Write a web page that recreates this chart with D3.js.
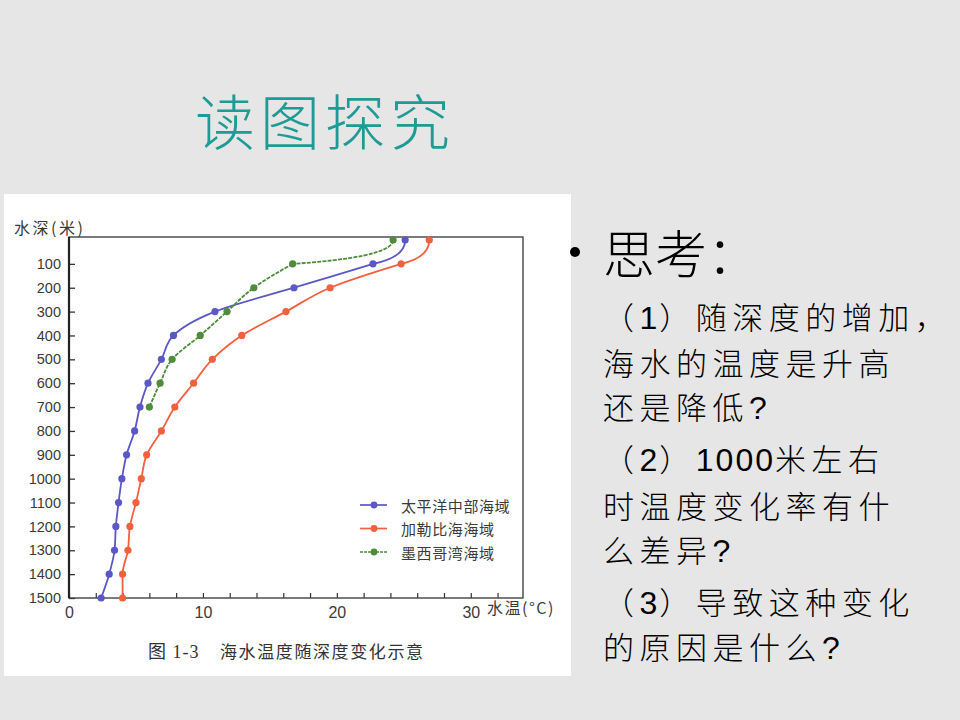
<!DOCTYPE html>
<html>
<head>
<meta charset="utf-8">
<script src="https://cdn.jsdelivr.net/npm/d3@7"></script>
<style>
  body { margin: 0; background: #e6e6e6; }
  svg { display: block; }
</style>
</head>
<body>
<div id="slide"></div>
<script>
// depth (m) of each reading
const depths = [0, 100, 200, 300, 400, 500, 600, 700, 800, 900, 1000, 1100, 1200, 1300, 1400, 1500];
// water temperature (°C) per series
const pacific = [25.1, 22.7, 16.8, 10.9, 7.8, 6.9, 5.9, 5.3, 4.9, 4.3, 3.95, 3.7, 3.5, 3.4, 3.0, 2.4];
const caribbean = [26.9, 24.8, 19.5, 16.2, 12.9, 10.7, 9.3, 7.9, 6.9, 5.8, 5.4, 5.0, 4.55, 4.4, 4.0, 4.0];
const mexico = [24.2, 16.7, 13.8, 11.8, 9.8, 7.7, 6.8, 6.0];
const seriesNames = ["太平洋中部海域", "加勒比海海域", "墨西哥湾海域"];
const seriesColors = ["#5b57c4", "#f2603f", "#4f8b3b"];
const depthTicks = [100, 200, 300, 400, 500, 600, 700, 800, 900, 1000, 1100, 1200, 1300, 1400, 1500];
const tempTicks = [0, 2, 4, 6, 8, 10, 12, 14, 16, 18, 20, 22, 24, 26, 28, 30, 32];
const tempLabels = [0, 10, 20, 30];

const questions = [
  "（1）随深度的增加，",
  "海水的温度是升高",
  "还是降低?",
  "（2）1000米左右",
  "时温度变化率有什",
  "么差异?",
  "（3）导致这种变化",
  "的原因是什么?"
];
const questionY = [318, 364, 408, 460, 507, 551, 603, 648];

(function seaTemp() {
  const width = 960, height = 720;
  const frame = {left: 69, right: 523, top: 237, bottom: 598};

  const svg = d3.select("#slide")
    .append("svg")
    .attr("width", width)
    .attr("height", height)
    .attr("viewBox", [0, 0, width, height]);

  svg.append("rect")
    .attr("width", width)
    .attr("height", height)
    .attr("fill", "#e6e6e6");

  // slide title
  svg.append("text")
    .attr("x", 195)
    .attr("y", 118)
    .attr("dominant-baseline", "central")
    .attr("font-family", "Noto Sans CJK SC")
    .attr("font-weight", 300)
    .attr("font-size", 60)
    .attr("letter-spacing", 5)
    .attr("fill", "#1d9b94")
    .text("读图探究");

  // white panel behind the figure
  svg.append("rect")
    .attr("x", 4)
    .attr("y", 194)
    .attr("width", 567)
    .attr("height", 482)
    .attr("fill", "#fff");

  let x = d3.scaleLinear([0, 33.9], [frame.left, frame.right]);
  let y = d3.scaleLinear([0, 1500], [240, frame.bottom]);

  const labelFont = "Noto Sans CJK SC";
  const ink = "#3a3a3a";

  // y axis
  svg.append("g")
    .attr("transform", `translate(${frame.left},0)`)
    .call(d3.axisLeft(y).tickValues(depthTicks).tickSize(-6).tickPadding(8).tickFormat(d => d))
    .call(g => g.select(".domain").remove())
    .call(g => g.selectAll("line").attr("stroke", "#333").attr("stroke-width", 1.3))
    .call(g => g.selectAll("text")
      .attr("font-family", "Liberation Sans, Arial")
      .attr("font-size", 14.5)
      .attr("fill", ink));

  // x axis
  svg.append("g")
    .attr("transform", `translate(0,${frame.bottom})`)
    .call(d3.axisBottom(x).tickValues(tempTicks).tickSize(-5).tickPadding(9)
      .tickFormat(d => tempLabels.includes(d) ? d : ""))
    .call(g => g.select(".domain").remove())
    .call(g => g.selectAll("line").attr("stroke", "#333").attr("stroke-width", 1.2))
    .call(g => g.selectAll("text")
      .attr("font-family", "Liberation Sans, Arial")
      .attr("font-size", 16)
      .attr("fill", ink));

  // frame
  svg.append("rect")
    .attr("x", frame.left)
    .attr("y", frame.top)
    .attr("width", frame.right - frame.left)
    .attr("height", frame.bottom - frame.top)
    .attr("fill", "none")
    .attr("stroke", "#444")
    .attr("stroke-width", 1.4);
  svg.append("line")
    .attr("x1", frame.left).attr("x2", frame.left)
    .attr("y1", frame.top).attr("y2", frame.bottom)
    .attr("stroke", "#222")
    .attr("stroke-width", 2.2);

  svg.append("text")
    .attr("x", 14)
    .attr("y", 227)
    .attr("dominant-baseline", "central")
    .attr("font-family", labelFont)
    .attr("font-size", 16)
    .attr("letter-spacing", 2.5)
    .attr("fill", ink)
    .text("水深(米)");

  svg.append("text")
    .attr("x", 487)
    .attr("y", 607)
    .attr("dominant-baseline", "central")
    .attr("font-family", labelFont)
    .attr("font-size", 16)
    .attr("letter-spacing", 1.5)
    .attr("fill", ink)
    .text("水温(°C)");

  const caption = svg.append("text")
    .attr("y", 652)
    .attr("dominant-baseline", "central")
    .attr("font-family", "Liberation Serif, Noto Sans CJK SC")
    .attr("font-size", 18)
    .attr("fill", "#333");
  caption.append("tspan").attr("x", 148).attr("letter-spacing", 1).text("图 1-3");
  caption.append("tspan").attr("x", 220).attr("font-size", 17).attr("letter-spacing", 1.6)
    .text("海水温度随深度变化示意");

  // series lines
  const series = [pacific, caribbean, mexico].map((temps, i) => ({
    name: seriesNames[i],
    color: seriesColors[i],
    values: temps.map((t, j) => ({temp: t, depth: depths[j]}))
  }));

  const line = d3.line()
    .x(d => x(d.temp))
    .y(d => y(d.depth))
    .curve(d3.curveMonotoneY);

  // surface hook: drops straight down from the surface reading, then swings left
  function topHook(v) {
    const x0 = x(v[0].temp), y0 = y(v[0].depth);
    const x1 = x(v[1].temp), y1 = y(v[1].depth);
    const p = d3.path();
    p.moveTo(x0, y0);
    p.bezierCurveTo(x0, y0 + 0.55 * (y1 - y0), x1 + 0.55 * (x0 - x1), y1 - 0.15 * (y1 - y0), x1, y1);
    return p.toString();
  }

  const groups = svg.append("g")
    .selectAll("g")
    .data(series)
    .join("g");

  groups.append("path")
    .attr("d", d => topHook(d.values) + line(d.values.slice(1)))
    .attr("fill", "none")
    .attr("stroke", d => d.color)
    .attr("stroke-width", 1.8)
    .attr("stroke-dasharray", (d, i) => i === 2 ? "4,1.2" : null);

  groups.selectAll("circle")
    .data(d => d.values.map(v => ({...v, color: d.color})))
    .join("circle")
    .attr("cx", d => x(d.temp))
    .attr("cy", d => y(d.depth))
    .attr("r", 3.6)
    .attr("fill", d => d.color);

  // legend
  let legendGroup = svg
    .selectAll(".legend-group")
    .data(series)
    .join("g")
    .attr("class", "legend-group")
    .attr("transform", (d, i) => `translate(360,${505 + i * 23.5})`);

  legendGroup.append("line")
    .attr("x1", 0).attr("x2", 27)
    .attr("stroke", d => d.color)
    .attr("stroke-width", 1.7)
    .attr("stroke-dasharray", (d, i) => i === 2 ? "3,1" : null);

  legendGroup.append("circle")
    .attr("cx", 14)
    .attr("r", 3.4)
    .attr("fill", d => d.color);

  legendGroup.append("text")
    .attr("x", 41)
    .attr("dominant-baseline", "central")
    .attr("font-family", labelFont)
    .attr("font-size", 15)
    .attr("letter-spacing", 0.6)
    .attr("fill", ink)
    .text(d => d.name);

  // right side questions
  svg.append("circle")
    .attr("cx", 575)
    .attr("cy", 252)
    .attr("r", 5)
    .attr("fill", "#000");

  svg.append("text")
    .attr("x", 603)
    .attr("y", 251)
    .attr("dominant-baseline", "central")
    .attr("font-family", "Noto Sans CJK SC")
    .attr("font-weight", 300)
    .attr("font-size", 52)
    .attr("letter-spacing", 0)
    .attr("fill", "#000")
    .text("思考：");

  // CJK runs get wide spacing, latin runs stay tight
  const runs = s => s.match(/[\x00-\x7F]+|[^\x00-\x7F]+/g);
  const isLatin = s => /^[\x00-\x7F]+$/.test(s);

  svg.append("g")
    .selectAll("text")
    .data(questions)
    .join("text")
    .attr("x", 603)
    .attr("y", (d, i) => questionY[i])
    .attr("dominant-baseline", "central")
    .attr("font-family", "Liberation Sans, Noto Sans CJK SC")
    .attr("font-weight", 300)
    .attr("font-size", 31)
    .attr("fill", "#000")
    .selectAll("tspan")
    .data(d => runs(d))
    .join("tspan")
    .attr("font-size", d => isLatin(d) ? 32 : null)
    .attr("letter-spacing", d => isLatin(d) ? 2 : 5.5)
    .text(d => d);
})();
</script>
</body>
</html>
